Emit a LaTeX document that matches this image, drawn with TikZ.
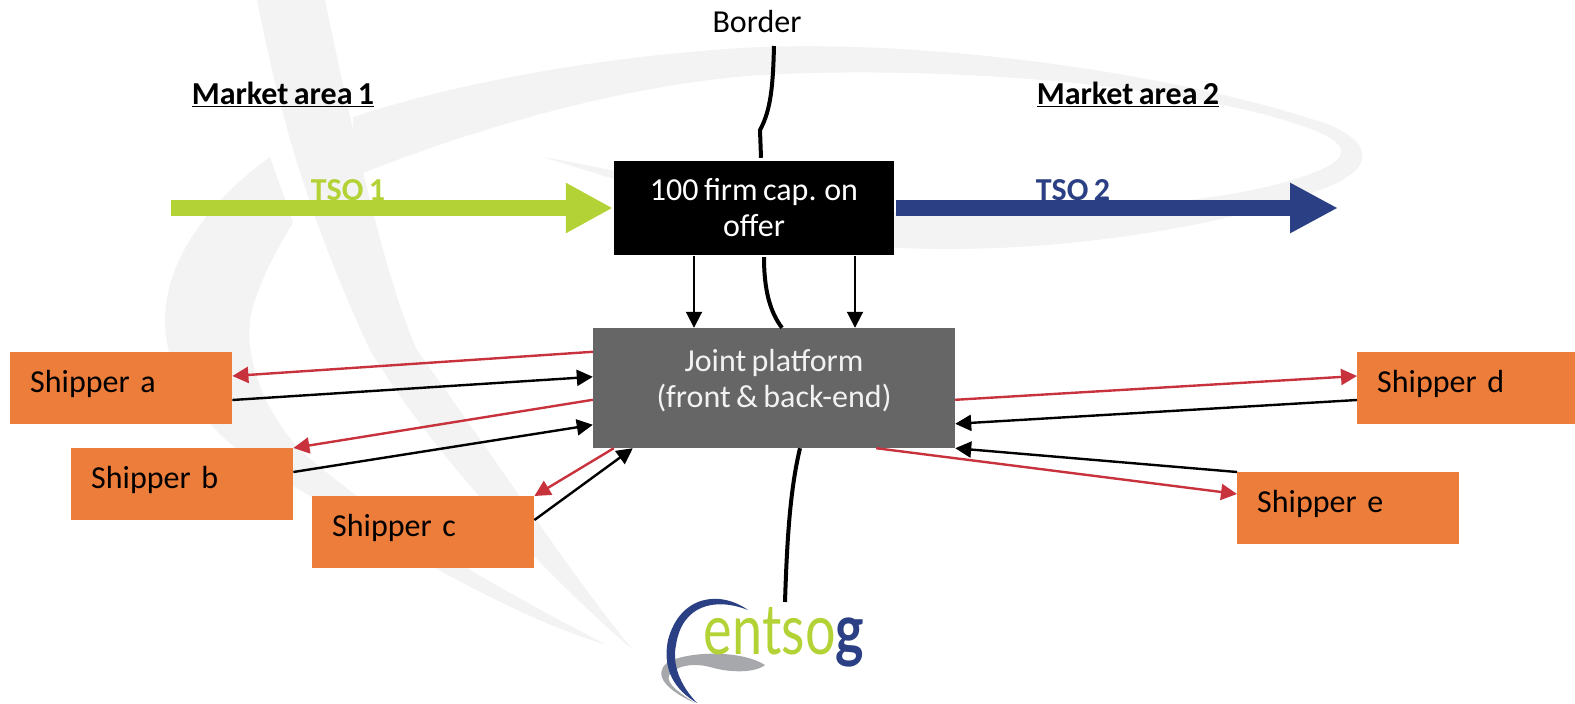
\documentclass[tikz,border=0pt]{standalone}
\usepackage{xcolor}
\usepackage{fontspec}
\setmainfont[WordSpace=0.75]{Carlito}
\newfontfamily\logofont{Lato}
\usetikzlibrary{arrows.meta}
\definecolor{tsogreen}{HTML}{B3D236}
\definecolor{tsoblue}{HTML}{2B4084}
\definecolor{shipperorange}{HTML}{ED7D3A}
\definecolor{platformgrey}{HTML}{666666}
\definecolor{flowred}{HTML}{C8323C}
\definecolor{wmarkgrey}{HTML}{F3F3F3}
\definecolor{logogrey}{HTML}{A6A8AB}

\begin{document}
\begin{tikzpicture}[x=1pt, y=-1pt, every node/.style={inner sep=0pt, font=\fontsize{32}{36}\selectfont},
	shipper/.style={fill=shipperorange, anchor=north west, text width=182pt, inner xsep=20pt, align=left, text height=40pt, text depth=32pt},
	market/.style={font=\fontsize{32}{36}\selectfont\bfseries},
	tsolabel/.style={anchor=base, font=\fontsize{32}{36}\selectfont\bfseries},
	borderline/.style={line width=4pt},
	wmark/.style={fill=wmarkgrey},
	blackflow/.style={black, line width=2.4pt, -{Triangle[length=16pt,width=16pt]}},
	redflow/.style={flowred, line width=2.4pt, -{Triangle[length=16pt,width=16pt]}},
	downflow/.style={black, line width=1.9pt, -{Triangle[length=16pt,width=16pt]}}]
	\useasboundingbox (0,0) rectangle (1575,704);

	% watermark
	\fill[wmark] (257,0) .. controls (275,90) and (300,200) .. (370,350) .. controls (430,450) and (540,570) .. (633,650) .. controls (575,580) and (510,480) .. (417,350) .. controls (385,280) and (350,120) .. (325,0) -- cycle;
	\fill[wmark] (270,157) .. controls (210,200) and (165,260) .. (165,320) .. controls (165,400) and (240,460) .. (300,490) .. controls (400,550) and (520,620) .. (607,645) .. controls (520,600) and (390,530) .. (300,450) .. controls (255,400) and (240,340) .. (255,300) .. controls (265,270) and (280,245) .. (293,222) -- cycle;
	\fill[wmark] (353,117) .. controls (450,85) and (600,55) .. (760,47) .. controls (960,40) and (1200,80) .. (1330,125) .. controls (1375,145) and (1375,170) .. (1320,190) .. controls (1230,225) and (1060,255) .. (900,248) .. controls (800,240) and (650,190) .. (543,157) .. controls (650,175) and (780,215) .. (900,212) .. controls (1060,215) and (1240,205) .. (1320,170) .. controls (1355,155) and (1345,140) .. (1300,125) .. controls (1180,85) and (950,65) .. (760,75) .. controls (620,85) and (470,130) .. (353,177) -- cycle;

	% logo
	\fill[logogrey] (765,665) .. controls (745,652) and (700,650) .. (672,660) .. controls (655,668) and (655,685) .. (695,703) .. controls (675,690) and (662,680) .. (672,672) .. controls (680,665) and (695,663) .. (710,667) .. controls (730,673) and (755,673) .. (765,665) -- cycle;
	\fill[tsoblue] (748,610) .. controls (720,590) and (680,595) .. (668,640) .. controls (662,670) and (675,690) .. (697,703) .. controls (680,685) and (672,665) .. (676,645) .. controls (682,605) and (715,597) .. (748,610) -- cycle;
	\node (logo) at (784,637) {\logofont\fontsize{54}{54}\selectfont\scalebox{1}[1.3]{\textcolor{tsogreen}{entso}\textcolor{tsoblue}{\bfseries g}}};

	% border
	\node[anchor=base] (border) at (757,32) {Border};
	\coordinate (bordertop) at (774,46);
	\coordinate (borderbend) at (760,130);
	\coordinate (borderend) at (785,602);

	% boxes
	\node[fill=black, text=white, align=center, minimum width=280pt, minimum height=94pt] (cap) at (754,208) {100 firm cap. on\\offer};
	\node[fill=platformgrey, text=white!95!black, align=center, minimum width=362pt, minimum height=120pt] (joint) at (774,388) {Joint platform\\(front \& back-end)\\[-16pt]};
	\node[shipper] (shippera) at (10,352) {Shipper a};
	\node[shipper] (shipperb) at (71,448) {Shipper b};
	\node[shipper] (shipperc) at (312,496) {Shipper c};
	\node[shipper, text width=178pt] (shipperd) at (1357,352) {Shipper d};
	\node[shipper] (shippere) at (1237,472) {Shipper e};

	% labels
	\node[market] (areaone) at (283,94) {\underline{Market area 1}};
	\node[market] (areatwo) at (1128,94) {\underline{Market area 2}};
	\coordinate (tsostart) at (171,208);
	\coordinate (tsoend) at (1338,208);
	\node[tsolabel, text=tsogreen] (tsoone) at (348,200) {TSO 1};
	\node[tsolabel, text=tsoblue] (tsotwo) at (1073,200) {TSO 2};

	\draw[tsogreen, line width=16pt, -{Triangle[length=47pt,width=47pt]}] (tsostart) -- ([xshift=-1pt]cap.west);
	\draw[tsoblue, line width=16pt, -{Triangle[length=48pt,width=47pt]}] ([xshift=2pt]cap.east) -- (tsoend);

	\draw[borderline] (bordertop) .. controls (773,85) and (771,110) .. (borderbend) -- ([xshift=7pt,yshift=3pt]cap.north);
	\draw[borderline] ([xshift=10pt,yshift=-2pt]cap.south) .. controls (764,290) and (770,312) .. ([xshift=8pt]joint.north);
	\draw[borderline] ([xshift=26pt]joint.south) .. controls (790,490) and (787,540) .. (borderend);

	\draw[downflow] ([xshift=-60pt,yshift=-1pt]cap.south) -- ([xshift=-80pt]joint.north);
	\draw[downflow] ([xshift=101pt,yshift=-1pt]cap.south) -- ([xshift=81pt]joint.north);

	\draw[redflow] ([yshift=-24pt]joint.north west) -- ([yshift=-24pt]shippera.north east);
	\draw[blackflow] ([yshift=-48pt]shippera.north east) -- ([yshift=-49pt]joint.north west);
	\draw[redflow] ([yshift=-72pt]joint.north west) -- (shipperb.north east);
	\draw[blackflow] ([yshift=-24pt]shipperb.north east) -- ([yshift=-97pt]joint.north west);
	\draw[redflow] ([xshift=21pt]joint.south west) -- (shipperc.north east);
	\draw[blackflow] ([yshift=-24pt]shipperc.north east) -- ([xshift=40pt]joint.south west);
	\draw[redflow] ([yshift=-72pt]joint.north east) -- ([yshift=-24pt]shipperd.north west);
	\draw[blackflow] ([yshift=-48pt]shipperd.north west) -- ([yshift=-96pt]joint.north east);
	\draw[blackflow] (shippere.north west) -- (joint.south east);
	\draw[redflow] ([xshift=-79pt]joint.south east) -- ([yshift=-22pt]shippere.north west);
\end{tikzpicture}
\end{document}
